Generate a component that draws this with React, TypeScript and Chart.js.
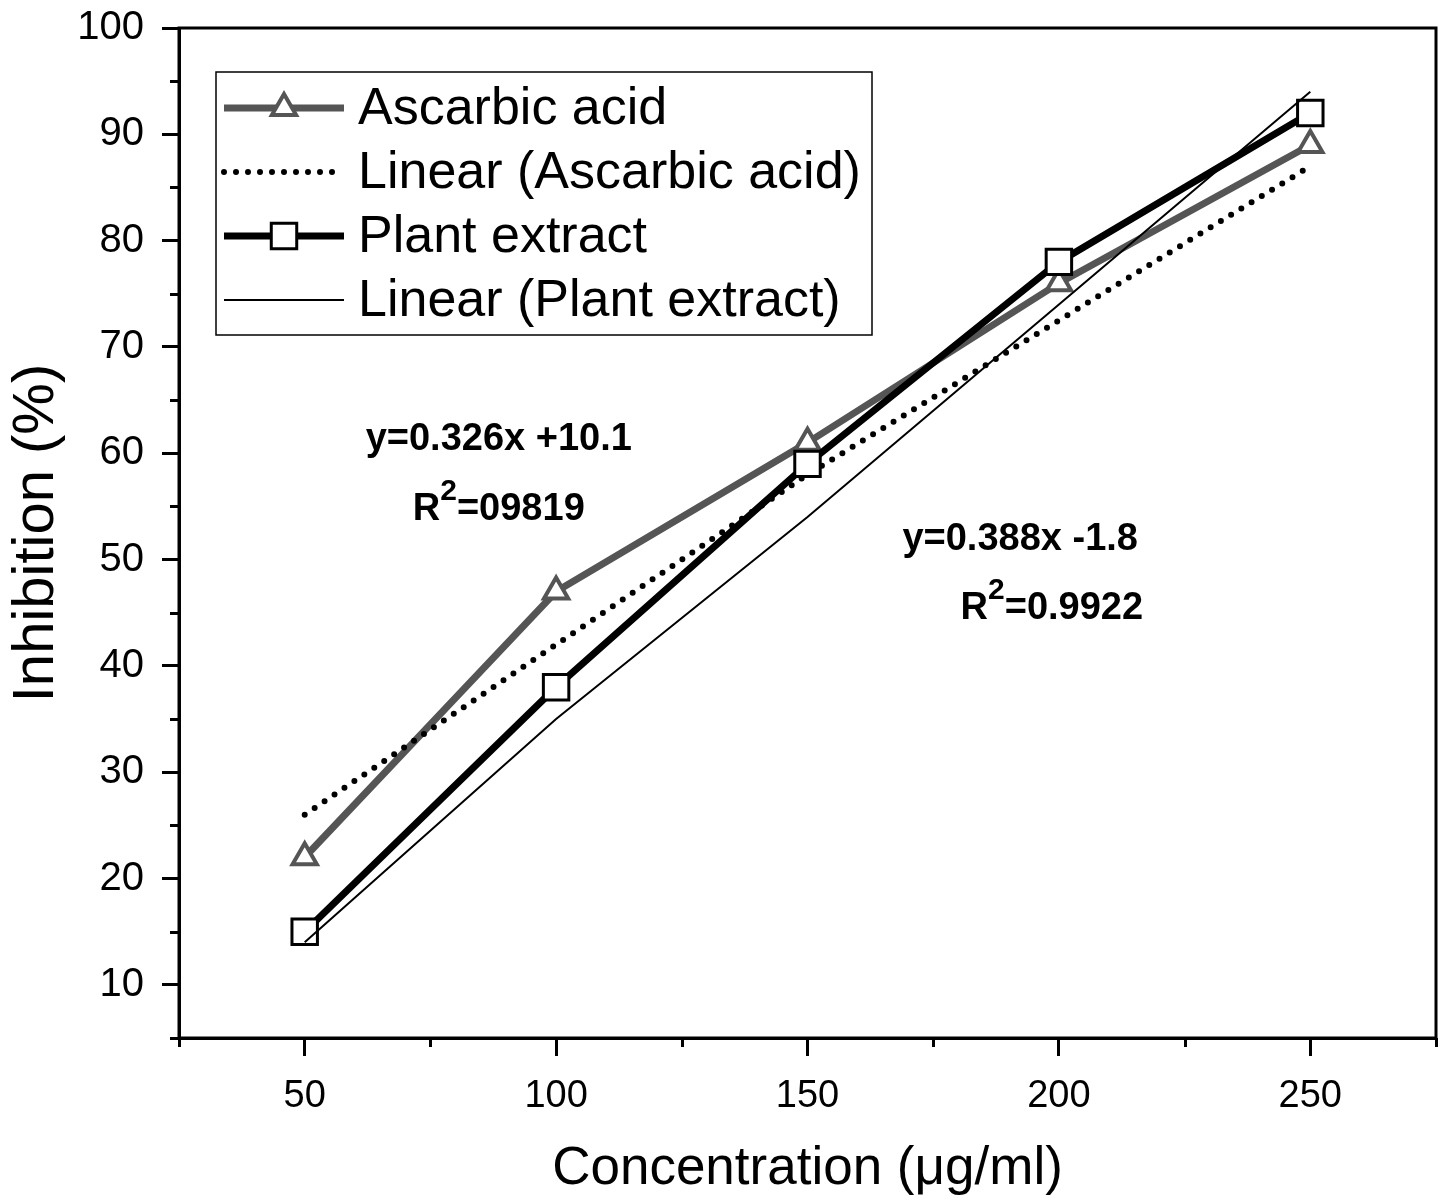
import React, { useEffect, useRef } from 'react';
import { Chart, registerables } from 'chart.js';
import { drawPoint } from 'chart.js/helpers';

Chart.register(...registerables);

const concentrations = [50, 100, 150, 200, 250];
const ascorbicAcid = [22, 47, 61, 76, 89];
const ascorbicLinear = [26, 42, 58, 72.5, 87];
const plantExtract = [15, 38, 59, 78, 92];
const plantLinear = [14, 35, 54, 74, 94];
const seriesLabels = ['Ascarbic acid', 'Linear (Ascarbic acid)', 'Plant extract', 'Linear (Plant extract)'];
const xTitle = 'Concentration (\u03bcg/ml)';
const yTitle = 'Inhibition (%)';

// equation annotations (x, baseline y in data units)
const eqAscorbicLine1 = { x: 88.6, y: 60.3, text: 'y=0.326x +10.1' };
const eqAscorbicLine2 = { x: 88.6, y: 53.7, pre: 'R', sup: '2', post: '=09819' };
const eqPlantLine1 = { x: 192.3, y: 50.9, text: 'y=0.388x -1.8' };
const eqPlantLine2 = { x: 198.6, y: 44.4, pre: 'R', sup: '2', post: '=0.9922' };

const FONT = '"Liberation Sans", Arial, Helvetica, sans-serif';

const toXY = (ys: number[]) => concentrations.map((x, i) => ({ x, y: ys[i] }));

const framePlugin = {
  id: 'frameAndExtras',
  afterDatasetsDraw(chart: any) {
    const { ctx, chartArea: a, scales } = chart;
    ctx.save();
    ctx.strokeStyle = '#000';
    ctx.lineWidth = 3;
    ctx.strokeRect(a.left, a.top, a.right - a.left, a.bottom - a.top);

    ctx.beginPath();
    scales.y.ticks.forEach((t: any) => {
      if (t.value % 10 !== 0) {
        const py = Math.round(scales.y.getPixelForValue(t.value)) + 0.5;
        ctx.moveTo(a.left, py);
        ctx.lineTo(a.left - 9, py);
      }
    });
    scales.x.ticks.forEach((t: any) => {
      if (t.value % 50 !== 0) {
        const px = Math.round(scales.x.getPixelForValue(t.value)) + 0.5;
        ctx.moveTo(px, a.bottom);
        ctx.lineTo(px, a.bottom + 9);
      }
    });
    ctx.stroke();

    ctx.fillStyle = '#000';
    ctx.textBaseline = 'alphabetic';
    const big = `bold 38px ${FONT}`;
    const small = `bold 30px ${FONT}`;
    const drawSimple = (e: any) => {
      ctx.font = big;
      ctx.textAlign = 'center';
      ctx.fillText(e.text, scales.x.getPixelForValue(e.x), scales.y.getPixelForValue(e.y));
    };
    const drawR2 = (e: any) => {
      ctx.textAlign = 'left';
      ctx.font = big;
      const w1 = ctx.measureText(e.pre).width;
      const w3 = ctx.measureText(e.post).width;
      ctx.font = small;
      const w2 = ctx.measureText(e.sup).width;
      const total = w1 + w2 + w3;
      let x = scales.x.getPixelForValue(e.x) - total / 2;
      const y = scales.y.getPixelForValue(e.y);
      ctx.font = big;
      ctx.fillText(e.pre, x, y);
      x += w1;
      ctx.font = small;
      ctx.fillText(e.sup, x, y - 20);
      x += w2;
      ctx.font = big;
      ctx.fillText(e.post, x, y);
    };
    drawSimple(eqAscorbicLine1);
    drawR2(eqAscorbicLine2);
    drawSimple(eqPlantLine1);
    drawR2(eqPlantLine2);

    const bx = a.left + 37;
    const by = a.top + 44;
    const bw = 656;
    const bh = 263;
    ctx.fillStyle = '#fff';
    ctx.fillRect(bx, by, bw, bh);
    ctx.lineWidth = 1.5;
    ctx.strokeStyle = '#000';
    ctx.strokeRect(bx, by, bw, bh);
    [0, 1, 2, 3].forEach((di, row) => {
      const ds = chart.data.datasets[di];
      const cy = by + 36 + row * 64;
      const x0 = bx + 8;
      const x1 = bx + 128;
      ctx.save();
      ctx.strokeStyle = ds.borderColor;
      ctx.lineWidth = ds.borderWidth;
      ctx.lineCap = ds.borderCapStyle || 'butt';
      ctx.setLineDash(ds.borderDash || []);
      ctx.beginPath();
      ctx.moveTo(x0, cy);
      ctx.lineTo(x1, cy);
      ctx.stroke();
      ctx.restore();
      if (ds.pointRadius > 0) {
        ctx.save();
        ctx.fillStyle = ds.pointBackgroundColor;
        ctx.strokeStyle = ds.pointBorderColor;
        ctx.lineWidth = ds.pointBorderWidth;
        drawPoint(ctx, { pointStyle: ds.pointStyle, rotation: 0, radius: ds.pointRadius, borderWidth: ds.pointBorderWidth }, (x0 + x1) / 2, cy);
        ctx.restore();
      }
      ctx.fillStyle = '#000';
      ctx.font = `52px ${FONT}`;
      ctx.textAlign = 'left';
      ctx.textBaseline = 'middle';
      ctx.fillText(seriesLabels[di], bx + 142, cy + 2);
    });
    ctx.restore();
  },
};

export default function App() {
  const ref = useRef<HTMLCanvasElement | null>(null);
  useEffect(() => {
    if (!ref.current) return;
    const chart = new Chart(ref.current, {
      type: 'line',
      data: {
        datasets: [
          {
            label: seriesLabels[0],
            data: toXY(ascorbicAcid),
            borderColor: '#555555',
            borderWidth: 7,
            pointStyle: 'triangle',
            pointRadius: 14,
            pointBorderWidth: 4,
            pointBackgroundColor: '#ffffff',
            pointBorderColor: '#555555',
            order: 4,
          } as any,
          {
            label: seriesLabels[1],
            data: toXY(ascorbicLinear),
            borderColor: '#000000',
            borderWidth: 6,
            borderDash: [0, 12],
            borderCapStyle: 'round',
            pointRadius: 0,
            order: 3,
          } as any,
          {
            label: seriesLabels[2],
            data: toXY(plantExtract),
            borderColor: '#000000',
            borderWidth: 7,
            pointStyle: 'rect',
            pointRadius: 18,
            pointBorderWidth: 3,
            pointBackgroundColor: '#ffffff',
            pointBorderColor: '#000000',
            order: 2,
          } as any,
          {
            label: seriesLabels[3],
            data: toXY(plantLinear),
            borderColor: '#000000',
            borderWidth: 2,
            pointRadius: 0,
            order: 1,
          } as any,
        ],
      },
      options: {
        animation: false,
        responsive: false,
        events: [],
        layout: { autoPadding: false, padding: { left: 0, top: 28, right: 6, bottom: 0 } },
        plugins: { legend: { display: false }, tooltip: { enabled: false } },
        scales: {
          x: {
            type: 'linear',
            min: 25,
            max: 275,
            afterFit: (s: any) => {
              s.height = 162;
              s.paddingLeft = 0;
              s.paddingRight = 0;
            },
            ticks: {
              stepSize: 25,
              autoSkip: false,
              maxRotation: 0,
              padding: 18,
              color: '#000',
              font: { family: FONT, size: 38 },
              callback: (v: any) => (v % 50 === 0 ? String(v) : ''),
            },
            grid: {
              drawOnChartArea: false,
              drawTicks: true,
              tickLength: 18,
              tickWidth: 3,
              tickColor: (c: any) => (c.tick && c.tick.value % 50 === 0 ? '#000' : 'rgba(0,0,0,0)'),
            },
            border: { display: true, color: '#000', width: 3 },
            title: {
              display: true,
              text: xTitle,
              color: '#000',
              font: { family: FONT, size: 53, lineHeight: 1.15 },
              padding: { top: 0, bottom: 0 },
            },
          },
          y: {
            type: 'linear',
            min: 5,
            max: 100,
            afterFit: (s: any) => {
              s.width = 179;
              s.paddingTop = 0;
              s.paddingBottom = 0;
            },
            ticks: {
              stepSize: 5,
              autoSkip: false,
              padding: 18,
              color: '#000',
              font: { family: FONT, size: 40 },
              callback: (v: any) => (v % 10 === 0 ? String(v) : ''),
            },
            grid: {
              drawOnChartArea: false,
              drawTicks: true,
              tickLength: 17,
              tickWidth: 3,
              tickColor: (c: any) => (c.tick && c.tick.value % 10 === 0 ? '#000' : 'rgba(0,0,0,0)'),
            },
            border: { display: true, color: '#000', width: 3 },
            title: {
              display: true,
              text: yTitle,
              color: '#000',
              font: { family: FONT, size: 58, lineHeight: 1.15 },
              padding: { top: 4, bottom: 0 },
            },
          },
        },
      },
      plugins: [framePlugin],
    });
    return () => chart.destroy();
  }, []);
  return (
    <div style={{ position: 'absolute', left: 0, top: 0, width: 1442, height: 1200, background: '#fff' }}>
      <canvas ref={ref} width={1442} height={1200} style={{ display: 'block', width: 1442, height: 1200 }} />
    </div>
  );
}
